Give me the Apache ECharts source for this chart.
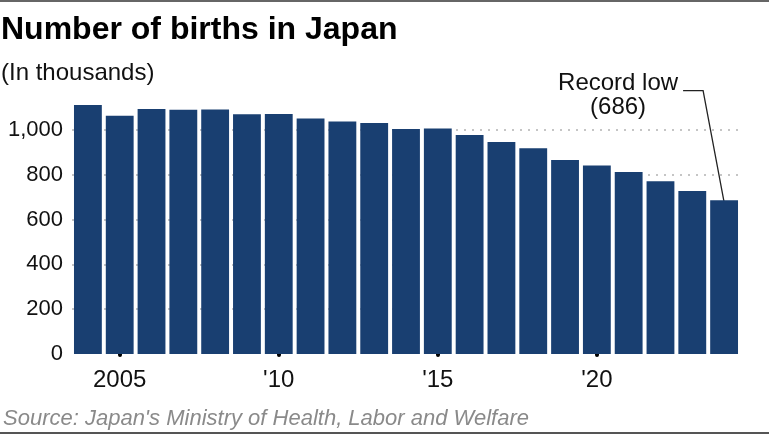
<!DOCTYPE html>
<html>
<head>
<meta charset="utf-8">
<script src="https://cdn.jsdelivr.net/npm/echarts@6/dist/echarts.min.js"></script>
<style>
  html, body { margin: 0; padding: 0; background: #fff; }
  #chart { width: 769px; height: 434px; }
</style>
</head>
<body>
<div id="chart"></div>
<script>
// births per year, in thousands
var years = [2004, 2005, 2006, 2007, 2008, 2009, 2010, 2011, 2012, 2013, 2014,
             2015, 2016, 2017, 2018, 2019, 2020, 2021, 2022, 2023, 2024];
var births = [1111, 1063, 1093, 1090, 1091, 1070, 1071, 1051, 1037, 1030, 1004,
              1006, 977, 946, 918, 865, 841, 812, 771, 727, 686];
var yTicks = [0, 200, 400, 600, 800, 1000];
var calloutValue = 1175; // height of the callout elbow, in thousands

var FONT = '"Liberation Sans", Arial, sans-serif';
var BAR = '#193f71';

var chart = echarts.init(document.getElementById('chart'));

chart.setOption({
    animation: false,
    grid: { left: 72, right: 29, top: 85, bottom: 80 },
    xAxis: {
        type: 'category',
        data: years.map(String),
        axisLine: { show: false },
        axisTick: {
            show: true,
            alignWithLabel: true,
            interval: function (i, v) { return Number(v) % 5 === 0; },
            length: 1,
            lineStyle: { color: '#000', width: 4, cap: 'round' }
        },
        axisLabel: {
            interval: function (i, v) { return Number(v) % 5 === 0; },
            margin: 14,
            fontFamily: FONT,
            fontSize: 24,
            color: '#111',
            formatter: function (v) {
                return v === '2005' ? v : "'" + v.slice(2);
            }
        }
    },
    yAxis: {
        type: 'value',
        min: 0,
        max: 1200,
        interval: 200,
        axisLine: { show: false },
        axisTick: { show: false },
        axisLabel: {
            showMaxLabel: false,
            margin: 9,
            fontFamily: FONT,
            fontSize: 22,
            color: '#111',
            formatter: function (v) {
                return yTicks.indexOf(v) < 0 ? '' : v.toLocaleString('en-US');
            }
        },
        splitLine: {
            show: true,
            lineStyle: {
                color: ['rgba(0,0,0,0)', '#b3b3b3', '#b3b3b3', '#b3b3b3', '#b3b3b3', '#b3b3b3', 'rgba(0,0,0,0)'],
                type: [2, 6],
                width: 1.5
            }
        }
    },
    series: [{
        type: 'bar',
        data: births,
        barCategoryGap: '12.5%',
        itemStyle: { color: BAR }
    }]
});

// callout for the last (lowest) bar
var last = births.length - 1;
var tip = chart.convertToPixel({ seriesIndex: 0 }, [last, births[last]]);
var elbow = chart.convertToPixel({ seriesIndex: 0 }, [last, calloutValue]);
elbow[0] -= 21;

chart.setOption({
    graphic: [
        { type: 'rect', shape: { x: 0, y: 0, width: 769, height: 2 }, style: { fill: '#666' } },
        { type: 'rect', shape: { x: 0, y: 432, width: 769, height: 2 }, style: { fill: '#555' } },
        {
            type: 'text', left: 1, top: 14,
            style: { text: 'Number of births in Japan', font: 'bold 32px ' + FONT, fill: '#000' }
        },
        {
            type: 'text', left: 1, top: 61,
            style: { text: '(In thousands)', font: '24px ' + FONT, fill: '#111' }
        },
        {
            type: 'text', left: 3, top: 408,
            style: { text: "Source: Japan's Ministry of Health, Labor and Welfare", font: 'italic 22px ' + FONT, fill: '#8a8a8a' }
        },
        {
            type: 'text', x: elbow[0] - 85, y: elbow[1] - 7,
            style: { text: 'Record low', font: '24px ' + FONT, fill: '#111', align: 'center', verticalAlign: 'middle' }
        },
        {
            type: 'text', x: elbow[0] - 85, y: elbow[1] + 17,
            style: { text: '(686)', font: '24px ' + FONT, fill: '#111', align: 'center', verticalAlign: 'middle' }
        },
        {
            type: 'polyline',
            shape: { points: [[elbow[0] - 20, elbow[1]], elbow, [tip[0], tip[1] + 2]] },
            style: { stroke: '#222', lineWidth: 1.3, fill: null }
        }
    ]
});
</script>
</body>
</html>
